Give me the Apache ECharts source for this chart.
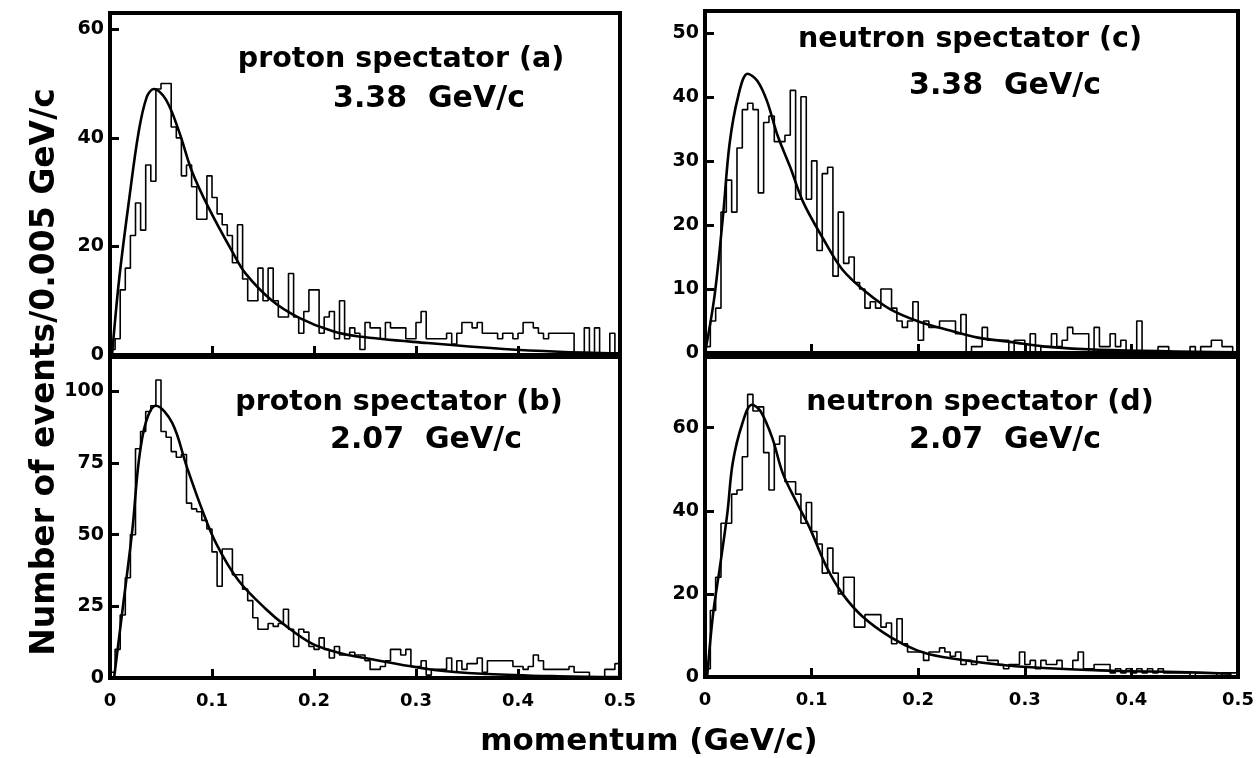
<!DOCTYPE html>
<html>
<head>
<meta charset="utf-8">
<script src="https://cdn.jsdelivr.net/npm/echarts@6/dist/echarts.min.js"></script>
<style>
html, body { margin: 0; padding: 0; background: #fff; }
#chart { width: 1260px; height: 758px; }
</style>
</head>
<body>
<div id="chart"></div>
<script>
// bin width of every histogram, GeV/c
var binWidth = 0.005;
var xTicks = [0, 0.1, 0.2, 0.3, 0.4, 0.5];

// (a) proton spectator, 3.38 GeV/c
var countsA = [1,3,12,16,22,28,23,35,32,49, 50,50,42,40,33,35,31,25,25,33,
               29,26,24,22,17,24,14,10,10,16, 10,16,10,7,7,15,7,4,8,12,
               12,4,7,8,3,10,3,5,4,1, 6,5,5,3,6,5,5,5,3,3,
               6,8,3,3,3,3,4,2,4,6, 6,5,6,4,4,4,3,4,4,3,
               4,6,6,5,4,3,4,4,4,4, 4,0,0,5,0,5,0,0,4,0];
var curveA = [[0.002,0],[0.009,14],[0.019,29],[0.028,41],[0.036,47.5],[0.043,49],[0.055,47],
              [0.068,41],[0.080,34],[0.097,27],[0.120,19],[0.133,15],[0.159,10],[0.185,6.9],
              [0.218,4.4],[0.244,3.4],[0.311,2.2],[0.386,1.1],[0.44,0.6],[0.5,0.3]];

// (b) proton spectator, 2.07 GeV/c
var countsB = [2,10,22,35,50,80,86,93,95,104, 86,84,79,77,78,61,59,58,55,52,
               44,32,45,45,36,36,31,27,21,17, 17,19,18,19,24,17,11,17,16,11,
               10,14,10,7,11,8,8,9,8,8, 6,3,3,4,6,10,10,8,10,4,
               4,6,1,3,3,3,7,2,6,3, 5,5,7,2,6,6,6,6,6,4,
               4,3,4,8,6,3,3,3,3,3, 4,2,2,2,0,0,0,3,3,5];
var curveB = [[0.004,0],[0.012,23],[0.022,52],[0.028,75],[0.035,89],[0.045,95],[0.061,89],
              [0.075,74],[0.090,59],[0.104,47],[0.126,34],[0.153,24],[0.173,18],[0.198,12],
              [0.225,8.7],[0.244,7.3],[0.318,2.8],[0.370,1.4],[0.44,0.6],[0.5,0.3]];

// (c) neutron spectator, 3.38 GeV/c
var countsC = [1,5,7,22,27,22,32,38,39,38, 25,36,37,33,33,34,41,24,40,24,
               30,16,28,29,12,22,14,15,11,10, 7,8,7,10,10,7,5,4,5,8,
               2,5,4,4,5,5,5,3,6,0, 1,1,4,2,2,2,2,0,2,2,
               0,3,0,1,1,3,1,2,4,3, 3,3,0,4,1,1,3,1,2,0,
               0,5,0,0,0,1,1,0,0,0, 0,1,0,1,1,2,2,1,1,0];
var curveC = [[0,0],[0.009,9],[0.017,21.6],[0.023,32.6],[0.031,40],[0.040,43.6],[0.049,42.5],
              [0.058,39.4],[0.068,34],[0.080,29],[0.092,23.6],[0.111,17.8],[0.129,13],
              [0.152,9.4],[0.174,6.8],[0.199,5],[0.230,3.5],[0.256,2.4],[0.288,1.7],
              [0.319,1.0],[0.37,0.5],[0.5,0.1]];

// (d) neutron spectator, 2.07 GeV/c
var countsD = [2,16,24,37,37,44,45,53,68,64, 65,54,45,56,58,47,47,44,37,42,
               35,32,25,31,25,20,24,24,12,12, 15,15,15,12,13,8,14,8,6,6,
               6,4,6,6,7,6,5,6,3,4, 3,5,5,4,4,3,2,3,3,6,
               3,4,2,4,3,3,4,2,2,4, 6,2,2,3,3,3,1,2,1,2,
               1,2,1,2,1,2,1,1,1,1, 1,0,1,1,1,1,0,1,1,1];
var curveD = [[0.002,0],[0.0075,15],[0.014,26.5],[0.021,39.5],[0.026,51.5],[0.035,61],
              [0.044,65.5],[0.052,64],[0.063,57.6],[0.073,49],[0.086,42],[0.098,36],
              [0.114,26.5],[0.129,20],[0.148,14.5],[0.174,9.6],[0.199,6.4],[0.223,4.8],
              [0.291,2.6],[0.382,1.5],[0.444,1.2],[0.494,0.8]];

var titlesTop = ['proton spectator (a)', 'proton spectator (b)', 'neutron spectator (c)', 'neutron spectator (d)'];
var titlesBeam = ['3.38  GeV/c', '2.07  GeV/c', '3.38  GeV/c', '2.07  GeV/c'];

var FONT = '"DejaVu Sans", sans-serif';

var panels = [
    {counts: countsA, curve: curveA, grid: {left: 110, top: 13, width: 510, height: 342}, max: 63, interval: 20, xLabels: false,
     t1: [401, 60], t2: [429, 99]},
    {counts: countsB, curve: curveB, grid: {left: 110, top: 357, width: 510, height: 321}, max: 112, interval: 25, xLabels: true,
     t1: [399, 403], t2: [426, 440]},
    {counts: countsC, curve: curveC, grid: {left: 705, top: 11, width: 533, height: 342}, max: 53.4, interval: 10, xLabels: false,
     t1: [970, 40], t2: [1005, 86]},
    {counts: countsD, curve: curveD, grid: {left: 705, top: 357, width: 533, height: 320}, max: 77, interval: 20, xLabels: true,
     t1: [980, 403], t2: [1005, 440]}
];

function stepData(counts) {
    var pts = [[0, 0]];
    for (var i = 0; i < counts.length; i++) {
        pts.push([i * binWidth, counts[i]]);
    }
    pts.push([counts.length * binWidth, counts[counts.length - 1]]);
    pts.push([counts.length * binWidth, 0]);
    return pts;
}

var grids = [], xAxes = [], yAxes = [], series = [], texts = [];

panels.forEach(function (p, k) {
    grids.push({
        left: p.grid.left, top: p.grid.top, width: p.grid.width, height: p.grid.height,
        show: true, borderColor: '#000', borderWidth: 4, backgroundColor: 'transparent'
    });
    xAxes.push({
        gridIndex: k, type: 'value', min: 0, max: 0.5, interval: 0.1,
        axisLine: {show: true, lineStyle: {color: '#000', width: 4}},
        axisTick: {show: true, inside: true, length: 9, lineStyle: {color: '#000', width: 3}},
        axisLabel: {
            show: p.xLabels, margin: 14, color: '#000', fontSize: 18, fontWeight: 'bold', fontFamily: FONT,
            formatter: function (v) { return xTicks.indexOf(Math.round(v * 10) / 10) >= 0 ? String(Math.round(v * 10) / 10) : ''; }
        },
        splitLine: {show: false}
    });
    yAxes.push({
        gridIndex: k, type: 'value', min: 0, max: p.max, interval: p.interval,
        axisLine: {show: true, lineStyle: {color: '#000', width: 4}},
        axisTick: {show: true, inside: true, length: 9, lineStyle: {color: '#000', width: 3}},
        axisLabel: {
            margin: 6, color: '#000', fontSize: 19, fontWeight: 'bold', fontFamily: FONT,
            showMaxLabel: false,
            formatter: function (v) { return v % p.interval === 0 ? String(v) : ''; }
        },
        splitLine: {show: false}
    });
    series.push({
        type: 'line', xAxisIndex: k, yAxisIndex: k, step: 'end',
        data: stepData(p.counts), symbol: 'none', silent: true,
        lineStyle: {color: '#000', width: 1.6}
    });
    series.push({
        type: 'line', xAxisIndex: k, yAxisIndex: k, smooth: 0.35,
        data: p.curve, symbol: 'none', silent: true,
        lineStyle: {color: '#000', width: 2.6}
    });
    texts.push({
        type: 'text', x: p.t1[0], y: p.t1[1],
        style: {text: titlesTop[k], font: 'bold 28.5px ' + FONT, fill: '#000', textAlign: 'center', textVerticalAlign: 'middle'}
    });
    texts.push({
        type: 'text', x: p.t2[0], y: p.t2[1],
        style: {text: titlesBeam[k], font: 'bold 30px ' + FONT, fill: '#000', textAlign: 'center', textVerticalAlign: 'middle'}
    });
});

texts.push({
    type: 'text', x: 45, y: 372, rotation: Math.PI / 2,
    style: {text: 'Number of events/0.005 GeV/c', font: 'bold 33px ' + FONT, fill: '#000', textAlign: 'center', textVerticalAlign: 'middle'}
});
texts.push({
    type: 'text', x: 649, y: 742,
    style: {text: 'momentum (GeV/c)', font: 'bold 31px ' + FONT, fill: '#000', textAlign: 'center', textVerticalAlign: 'middle'}
});

var chart = echarts.init(document.getElementById('chart'), null, {renderer: 'canvas'});
chart.setOption({
    animation: false,
    backgroundColor: '#fff',
    grid: grids,
    xAxis: xAxes,
    yAxis: yAxes,
    series: series,
    graphic: texts
});
</script>
</body>
</html>
